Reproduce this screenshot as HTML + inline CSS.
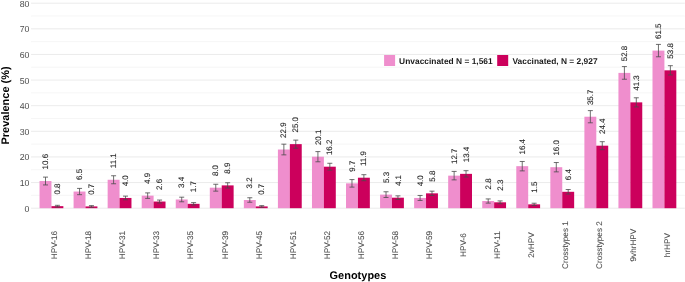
<!DOCTYPE html>
<html><head><meta charset="utf-8"><style>
html,body{margin:0;padding:0;background:#fff;}
body{width:685px;height:282px;overflow:hidden;}
svg{display:block;will-change:transform;text-rendering:geometricPrecision;font-family:"Liberation Sans",sans-serif;}
</style></head><body>
<svg width="685" height="282" viewBox="0 0 685 282">
<rect width="685" height="282" fill="#fff"/>
<line x1="31.02" x2="684.84" y1="208.20" y2="208.20" stroke="#E6E6E6" stroke-width="0.8"/>
<line x1="31.02" x2="684.84" y1="195.39" y2="195.39" stroke="#F0F0F0" stroke-width="0.6"/>
<line x1="31.02" x2="684.84" y1="182.57" y2="182.57" stroke="#E6E6E6" stroke-width="0.8"/>
<line x1="31.02" x2="684.84" y1="169.76" y2="169.76" stroke="#F0F0F0" stroke-width="0.6"/>
<line x1="31.02" x2="684.84" y1="156.95" y2="156.95" stroke="#E6E6E6" stroke-width="0.8"/>
<line x1="31.02" x2="684.84" y1="144.13" y2="144.13" stroke="#F0F0F0" stroke-width="0.6"/>
<line x1="31.02" x2="684.84" y1="131.32" y2="131.32" stroke="#E6E6E6" stroke-width="0.8"/>
<line x1="31.02" x2="684.84" y1="118.51" y2="118.51" stroke="#F0F0F0" stroke-width="0.6"/>
<line x1="31.02" x2="684.84" y1="105.70" y2="105.70" stroke="#E6E6E6" stroke-width="0.8"/>
<line x1="31.02" x2="684.84" y1="92.88" y2="92.88" stroke="#F0F0F0" stroke-width="0.6"/>
<line x1="31.02" x2="684.84" y1="80.07" y2="80.07" stroke="#E6E6E6" stroke-width="0.8"/>
<line x1="31.02" x2="684.84" y1="67.26" y2="67.26" stroke="#F0F0F0" stroke-width="0.6"/>
<line x1="31.02" x2="684.84" y1="54.44" y2="54.44" stroke="#E6E6E6" stroke-width="0.8"/>
<line x1="31.02" x2="684.84" y1="41.63" y2="41.63" stroke="#F0F0F0" stroke-width="0.6"/>
<line x1="31.02" x2="684.84" y1="28.82" y2="28.82" stroke="#E6E6E6" stroke-width="0.8"/>
<line x1="31.02" x2="684.84" y1="16.00" y2="16.00" stroke="#F0F0F0" stroke-width="0.6"/>
<line x1="31.02" x2="684.84" y1="3.19" y2="3.19" stroke="#E6E6E6" stroke-width="0.8"/>
<text transform="translate(29.42,211.65) scale(0.1)" font-size="88.0" fill="#4D4D4D" text-anchor="end">0</text>
<text transform="translate(29.42,186.02) scale(0.1)" font-size="88.0" fill="#4D4D4D" text-anchor="end">10</text>
<text transform="translate(29.42,160.40) scale(0.1)" font-size="88.0" fill="#4D4D4D" text-anchor="end">20</text>
<text transform="translate(29.42,134.77) scale(0.1)" font-size="88.0" fill="#4D4D4D" text-anchor="end">30</text>
<text transform="translate(29.42,109.15) scale(0.1)" font-size="88.0" fill="#4D4D4D" text-anchor="end">40</text>
<text transform="translate(29.42,83.52) scale(0.1)" font-size="88.0" fill="#4D4D4D" text-anchor="end">50</text>
<text transform="translate(29.42,57.89) scale(0.1)" font-size="88.0" fill="#4D4D4D" text-anchor="end">60</text>
<text transform="translate(29.42,32.27) scale(0.1)" font-size="88.0" fill="#4D4D4D" text-anchor="end">70</text>
<text transform="translate(29.42,6.64) scale(0.1)" font-size="88.0" fill="#4D4D4D" text-anchor="end">80</text>
<rect x="39.54" y="181.04" width="11.91" height="27.16" fill="#EF8ECD"/>
<rect x="51.45" y="206.15" width="11.91" height="2.05" fill="#CC005C"/>
<path d="M43.00 177.12H48.00M45.50 177.12V184.95M43.00 184.95H48.00" stroke="#4A4A4A" stroke-width="0.8" fill="none"/>
<text transform="translate(48.10,169.44) rotate(-90) scale(0.1)" font-size="80.0" fill="#2A2A2A" stroke="#2A2A2A" stroke-width="1.20">10.6</text>
<path d="M54.91 205.32H59.91M57.41 205.32V206.98M54.91 206.98H59.91" stroke="#4A4A4A" stroke-width="0.8" fill="none"/>
<text transform="translate(60.01,194.55) rotate(-90) scale(0.1)" font-size="80.0" fill="#2A2A2A" stroke="#2A2A2A" stroke-width="1.20">0.8</text>
<text transform="translate(57.25,245.10) rotate(-90) scale(0.1)" font-size="82.0" fill="#4D4D4D" text-anchor="middle" stroke="#4D4D4D" stroke-width="0.80">HPV-16</text>
<rect x="73.59" y="191.54" width="11.91" height="16.66" fill="#EF8ECD"/>
<rect x="85.50" y="206.41" width="11.91" height="1.79" fill="#CC005C"/>
<path d="M77.05 188.41H82.05M79.55 188.41V194.68M77.05 194.68H82.05" stroke="#4A4A4A" stroke-width="0.8" fill="none"/>
<text transform="translate(82.15,179.94) rotate(-90) scale(0.1)" font-size="80.0" fill="#2A2A2A" stroke="#2A2A2A" stroke-width="1.20">6.5</text>
<path d="M88.96 205.63H93.96M91.46 205.63V207.18M88.96 207.18H93.96" stroke="#4A4A4A" stroke-width="0.8" fill="none"/>
<text transform="translate(94.06,194.81) rotate(-90) scale(0.1)" font-size="80.0" fill="#2A2A2A" stroke="#2A2A2A" stroke-width="1.20">0.7</text>
<text transform="translate(91.30,245.10) rotate(-90) scale(0.1)" font-size="82.0" fill="#4D4D4D" text-anchor="middle" stroke="#4D4D4D" stroke-width="0.80">HPV-18</text>
<rect x="107.65" y="179.76" width="11.91" height="28.44" fill="#EF8ECD"/>
<rect x="119.56" y="197.95" width="11.91" height="10.25" fill="#CC005C"/>
<path d="M111.10 175.76H116.10M113.60 175.76V183.75M111.10 183.75H116.10" stroke="#4A4A4A" stroke-width="0.8" fill="none"/>
<text transform="translate(116.20,168.16) rotate(-90) scale(0.1)" font-size="80.0" fill="#2A2A2A" stroke="#2A2A2A" stroke-width="1.20">11.1</text>
<path d="M123.01 196.13H128.01M125.51 196.13V199.77M123.01 199.77H128.01" stroke="#4A4A4A" stroke-width="0.8" fill="none"/>
<text transform="translate(128.11,186.35) rotate(-90) scale(0.1)" font-size="80.0" fill="#2A2A2A" stroke="#2A2A2A" stroke-width="1.20">4.0</text>
<text transform="translate(125.36,245.10) rotate(-90) scale(0.1)" font-size="82.0" fill="#4D4D4D" text-anchor="middle" stroke="#4D4D4D" stroke-width="0.80">HPV-31</text>
<rect x="141.70" y="195.64" width="11.91" height="12.56" fill="#EF8ECD"/>
<rect x="153.61" y="201.54" width="11.91" height="6.66" fill="#CC005C"/>
<path d="M145.16 192.90H150.16M147.66 192.90V198.39M145.16 198.39H150.16" stroke="#4A4A4A" stroke-width="0.8" fill="none"/>
<text transform="translate(150.26,184.04) rotate(-90) scale(0.1)" font-size="80.0" fill="#2A2A2A" stroke="#2A2A2A" stroke-width="1.20">4.9</text>
<path d="M157.07 200.06H162.07M159.57 200.06V203.01M157.07 203.01H162.07" stroke="#4A4A4A" stroke-width="0.8" fill="none"/>
<text transform="translate(162.17,189.94) rotate(-90) scale(0.1)" font-size="80.0" fill="#2A2A2A" stroke="#2A2A2A" stroke-width="1.20">2.6</text>
<text transform="translate(159.41,245.10) rotate(-90) scale(0.1)" font-size="82.0" fill="#4D4D4D" text-anchor="middle" stroke="#4D4D4D" stroke-width="0.80">HPV-33</text>
<rect x="175.75" y="199.49" width="11.91" height="8.71" fill="#EF8ECD"/>
<rect x="187.66" y="203.84" width="11.91" height="4.36" fill="#CC005C"/>
<path d="M179.21 197.18H184.21M181.71 197.18V201.79M179.21 201.79H184.21" stroke="#4A4A4A" stroke-width="0.8" fill="none"/>
<text transform="translate(184.31,187.89) rotate(-90) scale(0.1)" font-size="80.0" fill="#2A2A2A" stroke="#2A2A2A" stroke-width="1.20">3.4</text>
<path d="M191.12 202.64H196.12M193.62 202.64V205.04M191.12 205.04H196.12" stroke="#4A4A4A" stroke-width="0.8" fill="none"/>
<text transform="translate(196.22,192.24) rotate(-90) scale(0.1)" font-size="80.0" fill="#2A2A2A" stroke="#2A2A2A" stroke-width="1.20">1.7</text>
<text transform="translate(193.46,245.10) rotate(-90) scale(0.1)" font-size="82.0" fill="#4D4D4D" text-anchor="middle" stroke="#4D4D4D" stroke-width="0.80">HPV-35</text>
<rect x="209.81" y="187.70" width="11.91" height="20.50" fill="#EF8ECD"/>
<rect x="221.72" y="185.39" width="11.91" height="22.81" fill="#CC005C"/>
<path d="M213.26 184.25H218.26M215.76 184.25V191.15M213.26 191.15H218.26" stroke="#4A4A4A" stroke-width="0.8" fill="none"/>
<text transform="translate(218.36,176.10) rotate(-90) scale(0.1)" font-size="80.0" fill="#2A2A2A" stroke="#2A2A2A" stroke-width="1.20">8.0</text>
<path d="M225.17 182.75H230.17M227.67 182.75V188.04M225.17 188.04H230.17" stroke="#4A4A4A" stroke-width="0.8" fill="none"/>
<text transform="translate(230.27,173.79) rotate(-90) scale(0.1)" font-size="80.0" fill="#2A2A2A" stroke="#2A2A2A" stroke-width="1.20">8.9</text>
<text transform="translate(227.52,245.10) rotate(-90) scale(0.1)" font-size="82.0" fill="#4D4D4D" text-anchor="middle" stroke="#4D4D4D" stroke-width="0.80">HPV-39</text>
<rect x="243.86" y="200.00" width="11.91" height="8.20" fill="#EF8ECD"/>
<rect x="255.77" y="206.41" width="11.91" height="1.79" fill="#CC005C"/>
<path d="M247.31 197.76H252.31M249.81 197.76V202.24M247.31 202.24H252.31" stroke="#4A4A4A" stroke-width="0.8" fill="none"/>
<text transform="translate(252.41,188.40) rotate(-90) scale(0.1)" font-size="80.0" fill="#2A2A2A" stroke="#2A2A2A" stroke-width="1.20">3.2</text>
<path d="M259.22 205.63H264.22M261.72 205.63V207.18M259.22 207.18H264.22" stroke="#4A4A4A" stroke-width="0.8" fill="none"/>
<text transform="translate(264.32,194.81) rotate(-90) scale(0.1)" font-size="80.0" fill="#2A2A2A" stroke="#2A2A2A" stroke-width="1.20">0.7</text>
<text transform="translate(261.57,245.10) rotate(-90) scale(0.1)" font-size="82.0" fill="#4D4D4D" text-anchor="middle" stroke="#4D4D4D" stroke-width="0.80">HPV-45</text>
<rect x="277.91" y="149.52" width="11.91" height="58.68" fill="#EF8ECD"/>
<rect x="289.82" y="144.13" width="11.91" height="64.06" fill="#CC005C"/>
<path d="M281.37 144.17H286.37M283.87 144.17V154.86M281.37 154.86H286.37" stroke="#4A4A4A" stroke-width="0.8" fill="none"/>
<text transform="translate(286.47,137.92) rotate(-90) scale(0.1)" font-size="80.0" fill="#2A2A2A" stroke="#2A2A2A" stroke-width="1.20">22.9</text>
<path d="M293.28 140.11H298.28M295.78 140.11V148.16M293.28 148.16H298.28" stroke="#4A4A4A" stroke-width="0.8" fill="none"/>
<text transform="translate(298.38,132.53) rotate(-90) scale(0.1)" font-size="80.0" fill="#2A2A2A" stroke="#2A2A2A" stroke-width="1.20">25.0</text>
<text transform="translate(295.62,245.10) rotate(-90) scale(0.1)" font-size="82.0" fill="#4D4D4D" text-anchor="middle" stroke="#4D4D4D" stroke-width="0.80">HPV-51</text>
<rect x="311.97" y="156.69" width="11.91" height="51.51" fill="#EF8ECD"/>
<rect x="323.88" y="166.69" width="11.91" height="41.51" fill="#CC005C"/>
<path d="M315.42 151.60H320.42M317.92 151.60V161.79M315.42 161.79H320.42" stroke="#4A4A4A" stroke-width="0.8" fill="none"/>
<text transform="translate(320.52,145.09) rotate(-90) scale(0.1)" font-size="80.0" fill="#2A2A2A" stroke="#2A2A2A" stroke-width="1.20">20.1</text>
<path d="M327.33 163.27H332.33M329.83 163.27V170.11M327.33 170.11H332.33" stroke="#4A4A4A" stroke-width="0.8" fill="none"/>
<text transform="translate(332.43,155.09) rotate(-90) scale(0.1)" font-size="80.0" fill="#2A2A2A" stroke="#2A2A2A" stroke-width="1.20">16.2</text>
<text transform="translate(329.68,245.10) rotate(-90) scale(0.1)" font-size="82.0" fill="#4D4D4D" text-anchor="middle" stroke="#4D4D4D" stroke-width="0.80">HPV-52</text>
<rect x="346.02" y="183.34" width="11.91" height="24.86" fill="#EF8ECD"/>
<rect x="357.93" y="177.71" width="11.91" height="30.49" fill="#CC005C"/>
<path d="M349.47 179.58H354.47M351.97 179.58V187.11M349.47 187.11H354.47" stroke="#4A4A4A" stroke-width="0.8" fill="none"/>
<text transform="translate(354.57,171.74) rotate(-90) scale(0.1)" font-size="80.0" fill="#2A2A2A" stroke="#2A2A2A" stroke-width="1.20">9.7</text>
<path d="M361.38 174.70H366.38M363.88 174.70V180.71M361.38 180.71H366.38" stroke="#4A4A4A" stroke-width="0.8" fill="none"/>
<text transform="translate(366.48,166.11) rotate(-90) scale(0.1)" font-size="80.0" fill="#2A2A2A" stroke="#2A2A2A" stroke-width="1.20">11.9</text>
<text transform="translate(363.73,245.10) rotate(-90) scale(0.1)" font-size="82.0" fill="#4D4D4D" text-anchor="middle" stroke="#4D4D4D" stroke-width="0.80">HPV-56</text>
<rect x="380.07" y="194.62" width="11.91" height="13.58" fill="#EF8ECD"/>
<rect x="391.98" y="197.69" width="11.91" height="10.51" fill="#CC005C"/>
<path d="M383.53 191.77H388.53M386.03 191.77V197.47M383.53 197.47H388.53" stroke="#4A4A4A" stroke-width="0.8" fill="none"/>
<text transform="translate(388.63,183.02) rotate(-90) scale(0.1)" font-size="80.0" fill="#2A2A2A" stroke="#2A2A2A" stroke-width="1.20">5.3</text>
<path d="M395.44 195.85H400.44M397.94 195.85V199.53M395.44 199.53H400.44" stroke="#4A4A4A" stroke-width="0.8" fill="none"/>
<text transform="translate(400.54,186.09) rotate(-90) scale(0.1)" font-size="80.0" fill="#2A2A2A" stroke="#2A2A2A" stroke-width="1.20">4.1</text>
<text transform="translate(397.78,245.10) rotate(-90) scale(0.1)" font-size="82.0" fill="#4D4D4D" text-anchor="middle" stroke="#4D4D4D" stroke-width="0.80">HPV-58</text>
<rect x="414.12" y="197.95" width="11.91" height="10.25" fill="#EF8ECD"/>
<rect x="426.03" y="193.34" width="11.91" height="14.86" fill="#CC005C"/>
<path d="M417.58 195.46H422.58M420.08 195.46V200.44M417.58 200.44H422.58" stroke="#4A4A4A" stroke-width="0.8" fill="none"/>
<text transform="translate(422.68,186.35) rotate(-90) scale(0.1)" font-size="80.0" fill="#2A2A2A" stroke="#2A2A2A" stroke-width="1.20">4.0</text>
<path d="M429.49 191.17H434.49M431.99 191.17V195.51M429.49 195.51H434.49" stroke="#4A4A4A" stroke-width="0.8" fill="none"/>
<text transform="translate(434.59,181.74) rotate(-90) scale(0.1)" font-size="80.0" fill="#2A2A2A" stroke="#2A2A2A" stroke-width="1.20">5.8</text>
<text transform="translate(431.83,245.10) rotate(-90) scale(0.1)" font-size="82.0" fill="#4D4D4D" text-anchor="middle" stroke="#4D4D4D" stroke-width="0.80">HPV-59</text>
<rect x="448.18" y="175.65" width="11.91" height="32.55" fill="#EF8ECD"/>
<rect x="460.09" y="173.86" width="11.91" height="34.34" fill="#CC005C"/>
<path d="M451.63 171.42H456.63M454.13 171.42V179.89M451.63 179.89H456.63" stroke="#4A4A4A" stroke-width="0.8" fill="none"/>
<text transform="translate(456.73,164.05) rotate(-90) scale(0.1)" font-size="80.0" fill="#2A2A2A" stroke="#2A2A2A" stroke-width="1.20">12.7</text>
<path d="M463.54 170.70H468.54M466.04 170.70V177.02M463.54 177.02H468.54" stroke="#4A4A4A" stroke-width="0.8" fill="none"/>
<text transform="translate(468.64,162.26) rotate(-90) scale(0.1)" font-size="80.0" fill="#2A2A2A" stroke="#2A2A2A" stroke-width="1.20">13.4</text>
<text transform="translate(465.89,245.10) rotate(-90) scale(0.1)" font-size="82.0" fill="#4D4D4D" text-anchor="middle" stroke="#4D4D4D" stroke-width="0.80">HPV-6</text>
<rect x="482.23" y="201.02" width="11.91" height="7.18" fill="#EF8ECD"/>
<rect x="494.14" y="202.31" width="11.91" height="5.89" fill="#CC005C"/>
<path d="M485.69 198.93H490.69M488.19 198.93V203.12M485.69 203.12H490.69" stroke="#4A4A4A" stroke-width="0.8" fill="none"/>
<text transform="translate(490.79,189.42) rotate(-90) scale(0.1)" font-size="80.0" fill="#2A2A2A" stroke="#2A2A2A" stroke-width="1.20">2.8</text>
<path d="M497.60 200.91H502.60M500.10 200.91V203.70M497.60 203.70H502.60" stroke="#4A4A4A" stroke-width="0.8" fill="none"/>
<text transform="translate(502.70,190.71) rotate(-90) scale(0.1)" font-size="80.0" fill="#2A2A2A" stroke="#2A2A2A" stroke-width="1.20">2.3</text>
<text transform="translate(499.94,245.10) rotate(-90) scale(0.1)" font-size="82.0" fill="#4D4D4D" text-anchor="middle" stroke="#4D4D4D" stroke-width="0.80">HPV-11</text>
<rect x="516.28" y="166.17" width="11.91" height="42.03" fill="#EF8ECD"/>
<rect x="528.19" y="204.36" width="11.91" height="3.84" fill="#CC005C"/>
<path d="M519.74 161.47H524.74M522.24 161.47V170.88M519.74 170.88H524.74" stroke="#4A4A4A" stroke-width="0.8" fill="none"/>
<text transform="translate(524.84,154.57) rotate(-90) scale(0.1)" font-size="80.0" fill="#2A2A2A" stroke="#2A2A2A" stroke-width="1.20">16.4</text>
<path d="M531.65 203.23H536.65M534.15 203.23V205.48M531.65 205.48H536.65" stroke="#4A4A4A" stroke-width="0.8" fill="none"/>
<text transform="translate(536.75,192.76) rotate(-90) scale(0.1)" font-size="80.0" fill="#2A2A2A" stroke="#2A2A2A" stroke-width="1.20">1.5</text>
<text transform="translate(533.99,245.10) rotate(-90) scale(0.1)" font-size="82.0" fill="#4D4D4D" text-anchor="middle" stroke="#4D4D4D" stroke-width="0.80">2vHPV</text>
<rect x="550.34" y="167.20" width="11.91" height="41.00" fill="#EF8ECD"/>
<rect x="562.25" y="191.80" width="11.91" height="16.40" fill="#CC005C"/>
<path d="M553.79 162.54H558.79M556.29 162.54V171.86M553.79 171.86H558.79" stroke="#4A4A4A" stroke-width="0.8" fill="none"/>
<text transform="translate(558.89,155.60) rotate(-90) scale(0.1)" font-size="80.0" fill="#2A2A2A" stroke="#2A2A2A" stroke-width="1.20">16.0</text>
<path d="M565.70 189.53H570.70M568.20 189.53V194.07M565.70 194.07H570.70" stroke="#4A4A4A" stroke-width="0.8" fill="none"/>
<text transform="translate(570.80,180.20) rotate(-90) scale(0.1)" font-size="80.0" fill="#2A2A2A" stroke="#2A2A2A" stroke-width="1.20">6.4</text>
<text transform="translate(568.05,245.10) rotate(-90) scale(0.1)" font-size="82.0" fill="#4D4D4D" text-anchor="middle" stroke="#4D4D4D" stroke-width="0.80">Crosstypes 1</text>
<rect x="584.39" y="116.72" width="11.91" height="91.48" fill="#EF8ECD"/>
<rect x="596.30" y="145.67" width="11.91" height="62.53" fill="#CC005C"/>
<path d="M587.84 110.62H592.84M590.34 110.62V122.81M587.84 122.81H592.84" stroke="#4A4A4A" stroke-width="0.8" fill="none"/>
<text transform="translate(592.94,105.12) rotate(-90) scale(0.1)" font-size="80.0" fill="#2A2A2A" stroke="#2A2A2A" stroke-width="1.20">35.7</text>
<path d="M599.75 141.69H604.75M602.25 141.69V149.66M599.75 149.66H604.75" stroke="#4A4A4A" stroke-width="0.8" fill="none"/>
<text transform="translate(604.85,134.07) rotate(-90) scale(0.1)" font-size="80.0" fill="#2A2A2A" stroke="#2A2A2A" stroke-width="1.20">24.4</text>
<text transform="translate(602.10,245.10) rotate(-90) scale(0.1)" font-size="82.0" fill="#4D4D4D" text-anchor="middle" stroke="#4D4D4D" stroke-width="0.80">Crosstypes 2</text>
<rect x="618.44" y="72.89" width="11.91" height="135.31" fill="#EF8ECD"/>
<rect x="630.35" y="102.36" width="11.91" height="105.84" fill="#CC005C"/>
<path d="M621.90 66.55H626.90M624.40 66.55V79.24M621.90 79.24H626.90" stroke="#4A4A4A" stroke-width="0.8" fill="none"/>
<text transform="translate(627.00,61.29) rotate(-90) scale(0.1)" font-size="80.0" fill="#2A2A2A" stroke="#2A2A2A" stroke-width="1.20">52.8</text>
<path d="M633.81 97.79H638.81M636.31 97.79V106.94M633.81 106.94H638.81" stroke="#4A4A4A" stroke-width="0.8" fill="none"/>
<text transform="translate(638.91,90.76) rotate(-90) scale(0.1)" font-size="80.0" fill="#2A2A2A" stroke="#2A2A2A" stroke-width="1.20">41.3</text>
<text transform="translate(636.15,245.10) rotate(-90) scale(0.1)" font-size="82.0" fill="#4D4D4D" text-anchor="middle" stroke="#4D4D4D" stroke-width="0.80">9vhrHPV</text>
<rect x="652.50" y="50.60" width="11.91" height="157.60" fill="#EF8ECD"/>
<rect x="664.41" y="70.33" width="11.91" height="137.87" fill="#CC005C"/>
<path d="M655.95 44.41H660.95M658.45 44.41V56.79M655.95 56.79H660.95" stroke="#4A4A4A" stroke-width="0.8" fill="none"/>
<text transform="translate(661.05,39.00) rotate(-90) scale(0.1)" font-size="80.0" fill="#2A2A2A" stroke="#2A2A2A" stroke-width="1.20">61.5</text>
<path d="M667.86 65.70H672.86M670.36 65.70V74.96M667.86 74.96H672.86" stroke="#4A4A4A" stroke-width="0.8" fill="none"/>
<text transform="translate(672.96,58.73) rotate(-90) scale(0.1)" font-size="80.0" fill="#2A2A2A" stroke="#2A2A2A" stroke-width="1.20">53.8</text>
<text transform="translate(670.21,245.10) rotate(-90) scale(0.1)" font-size="82.0" fill="#4D4D4D" text-anchor="middle" stroke="#4D4D4D" stroke-width="0.80">hrHPV</text>
<text transform="translate(357.93,278.80) scale(0.1)" font-size="110.0" fill="#000" text-anchor="middle" font-weight="bold">Genotypes</text>
<text transform="translate(8.80,105.40) rotate(-90) scale(0.1)" font-size="110.0" fill="#000" text-anchor="middle" font-weight="bold">Prevalence (%)</text>
<rect x="384.1" y="55" width="11" height="11" fill="#EF8ECD"/>
<text transform="translate(399.10,63.60) scale(0.1)" font-size="84.0" fill="#1A1A1A" font-weight="bold">Unvaccinated N = 1,561</text>
<rect x="497.2" y="55" width="11" height="11" fill="#CC005C"/>
<text transform="translate(512.40,63.60) scale(0.1)" font-size="84.0" fill="#1A1A1A" font-weight="bold">Vaccinated, N = 2,927</text>
</svg>
</body></html>
